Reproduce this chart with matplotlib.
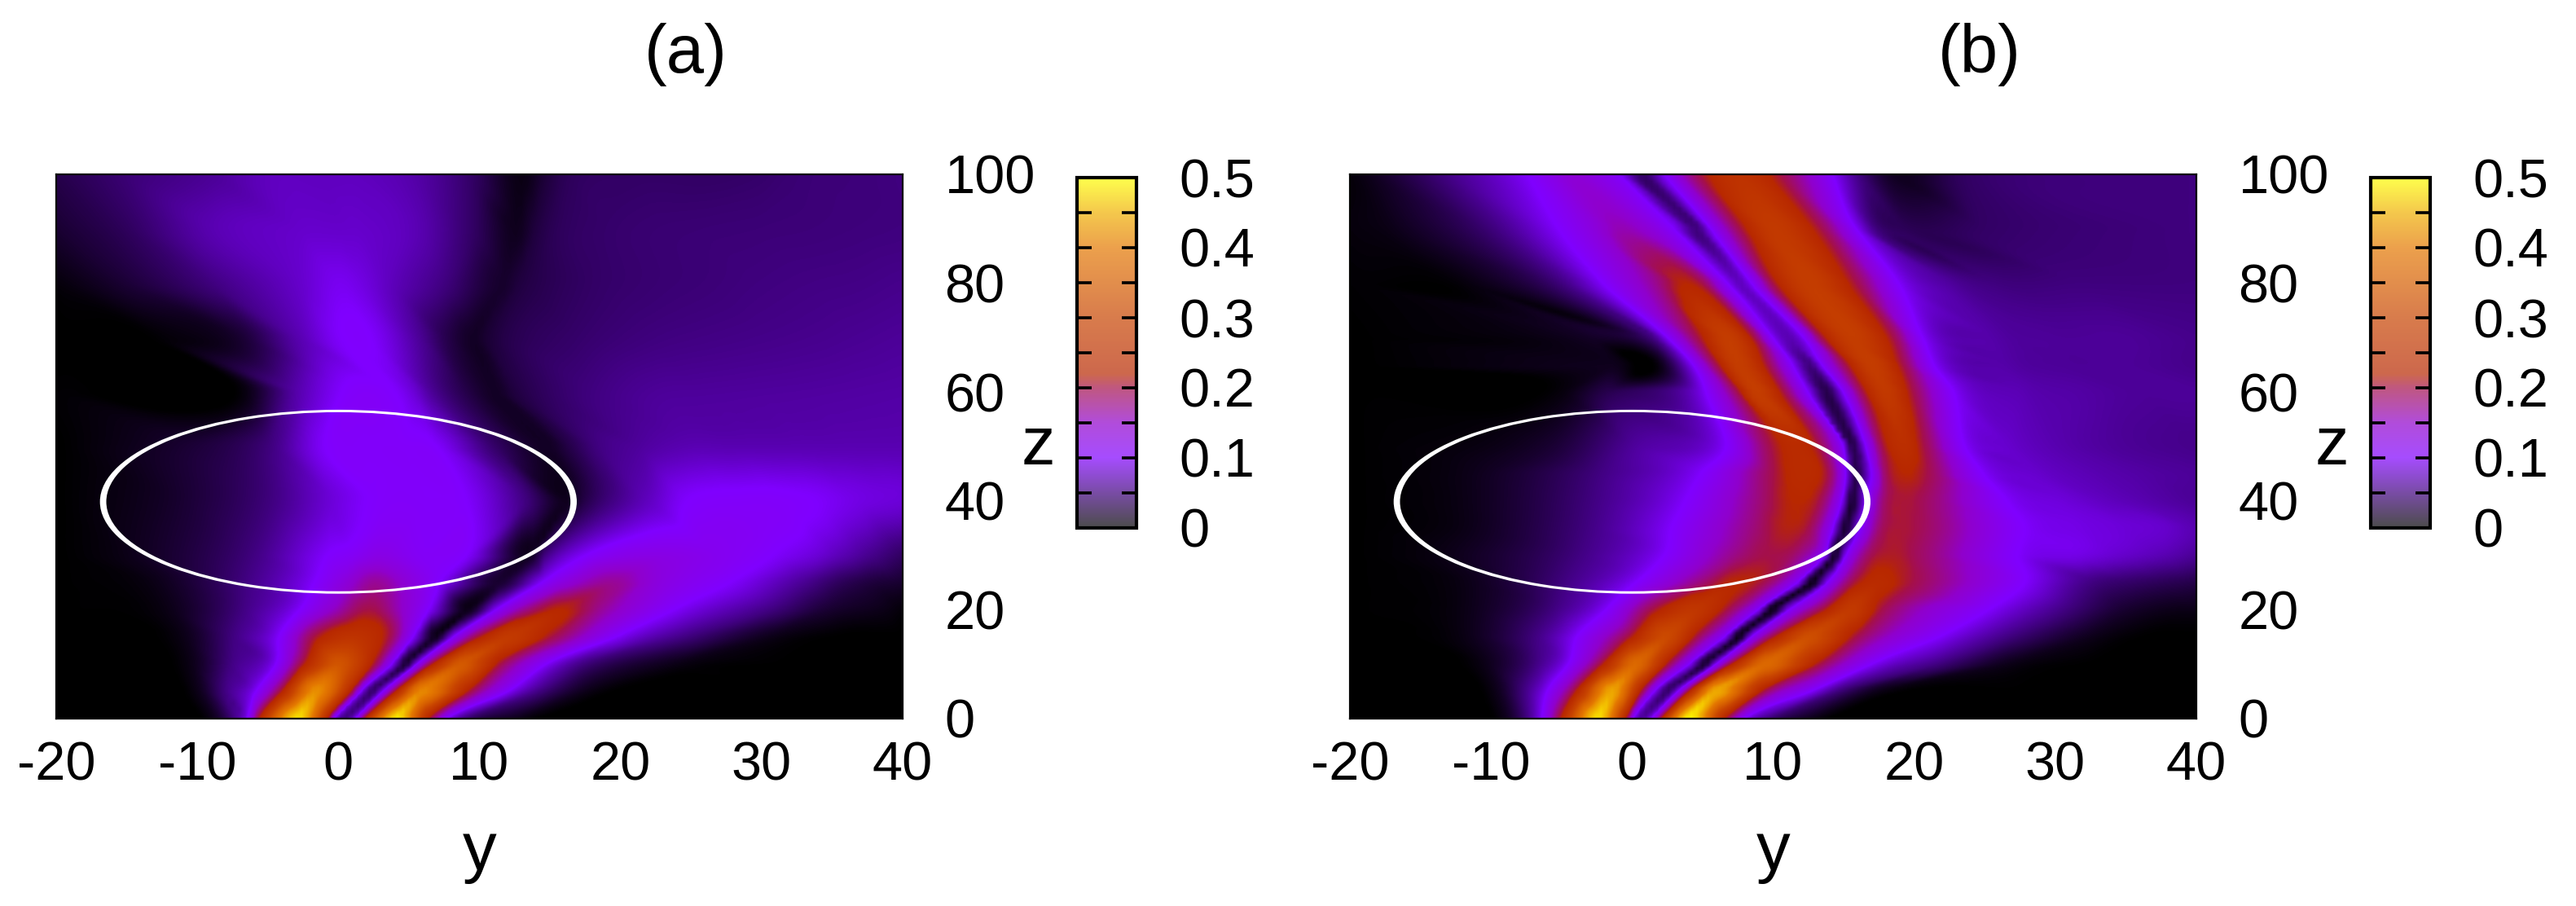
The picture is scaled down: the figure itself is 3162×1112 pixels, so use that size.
#!/usr/bin/env python3
"""Two intensity maps over y and z, with the circular region outlined."""
import matplotlib
matplotlib.use("Agg")
import matplotlib.pyplot as plt
import matplotlib.tri as mtri
import numpy as np
from matplotlib.colors import LinearSegmentedColormap
from matplotlib.patches import Annulus

plt.rcParams["font.family"] = ["Liberation Sans", "DejaVu Sans"]

WIDTH, HEIGHT = 3162, 1112
FONT = 48
LABEL_FONT = 60

Y_TICKS = [-20, -10, 0, 10, 20, 30, 40]
Z_TICKS = [0, 20, 40, 60, 80, 100]
BAR_TICKS = [0, 0.05, 0.1, 0.15, 0.2, 0.25, 0.3, 0.35, 0.4, 0.45, 0.5]
BAR_LABELS = ["0", "", "0.1", "", "0.2", "", "0.3", "", "0.4", "", "0.5"]

PALETTE_AT = [0, 0.1, 0.15, 0.2, 0.22, 0.3, 0.4, 0.45, 0.5]
PALETTE = ["#000000", "#8000ff", "#9000cc", "#a5104a", "#b82800",
           "#c84400", "#e47800", "#f0b000", "#ffff00"]

# samples along each z row, the columns follow the same ridge from row to row
A_Z = [0, 5, 10, 15, 20, 25, 30, 40, 50, 60, 70, 80, 90, 100]
A_Y = [
    [-20, -9.1, -7.6, -6.5, -5.8, -3, -0.7, -0.3, 0.5, 1.25, 1.8, 3.9, 6.6, 7.8, 9.1, 13, 25, 40],
    [-20, -10.1, -8.2, -5.9, -4.2, -1.6, 1, 1.6, 2.4, 3.2, 4, 5.8, 9.5, 12.2, 14.5, 17.8, 28, 40],
    [-20, -10.5, -7.8, -4.5, -2.7, 0.1, 2.6, 3.8, 4.8, 5.6, 6.6, 8.75, 11.6, 14.9, 17.6, 24, 32, 40],
    [-20, -11, -7.6, -4.3, -1.8, 1.25, 3.6, 5.3, 6.9, 8.2, 9.9, 12.2, 15.3, 19.9, 25, 31, 36, 40],
    [-20, -12, -7, -2.8, -0.5, 2.2, 4.5, 6.4, 9.3, 11.25, 13.2, 15.8, 18.75, 24, 31, 35, 38.8, 40],
    [-20, -13, -6.8, -1.8, 0.1, 2.6, 5.3, 7.2, 11.6, 14.5, 15.9, 19.5, 23, 28, 33, 36, 38, 40],
    [-20, -15, -6.2, -0.9, 1, 3, 5.5, 9.1, 13.75, 14.7, 17.6, 23, 27, 31, 34, 36, 38, 40],
    [-20, -11.2, -4.9, -0.6, 3.2, 6, 9.1, 13.3, 16.3, 17.6, 19.3, 22, 24.8, 28, 31.1, 34, 37, 40],
    [-20, -11.2, -4.9, -1, 2.3, 4.5, 7, 11.2, 15, 16.5, 18.4, 21.5, 24.8, 28, 31, 34, 37, 40],
    [-20, -7, -2.8, 1, 4, 5.3, 6.6, 9, 11.2, 12.5, 14.2, 18, 22.7, 26, 30, 34, 37, 40],
    [-20, -13, -7, -2.8, 0.2, 2.3, 5.7, 7.7, 9.5, 10.7, 12, 17, 22.7, 26, 30, 34, 37, 40],
    [-20, -15.5, -9, -2.8, 0, 1.5, 3.6, 7.5, 11.7, 12.8, 14, 18, 22.7, 26, 30, 34, 37, 40],
    [-20, -15.5, -9, -2.8, 0, 1.5, 5.7, 9.5, 12.7, 14, 15.5, 19, 22.7, 26, 30, 34, 37, 40],
    [-20, -15.5, -9, -5, -1, 1.5, 5.7, 9.5, 13.1, 14.6, 16.3, 21, 27, 30, 32, 34, 37, 40],
]
A_V = [
    [0, 0.01, 0.05, 0.1, 0.2, 0.48, 0.2, 0.1, 0.05, 0.1, 0.2, 0.48, 0.2, 0.1, 0.05, 0.01, 0, 0],
    [0, 0.01, 0.05, 0.1, 0.2, 0.42, 0.2, 0.1, 0.04, 0.1, 0.2, 0.41, 0.2, 0.1, 0.05, 0.01, 0, 0],
    [0, 0.01, 0.05, 0.1, 0.2, 0.33, 0.2, 0.1, 0.02, 0.1, 0.2, 0.34, 0.2, 0.1, 0.05, 0.01, 0, 0],
    [0, 0.01, 0.05, 0.1, 0.2, 0.25, 0.2, 0.1, 0.01, 0.1, 0.2, 0.27, 0.2, 0.1, 0.05, 0.01, 0, 0],
    [0, 0.01, 0.05, 0.1, 0.15, 0.2, 0.15, 0.1, 0.01, 0.1, 0.17, 0.22, 0.17, 0.1, 0.05, 0.02, 0.01, 0.005],
    [0, 0.01, 0.05, 0.1, 0.13, 0.17, 0.13, 0.1, 0.02, 0.1, 0.13, 0.17, 0.13, 0.1, 0.06, 0.035, 0.025, 0.02],
    [0, 0.01, 0.05, 0.1, 0.11, 0.125, 0.11, 0.1, 0.015, 0.05, 0.1, 0.125, 0.115, 0.1, 0.085, 0.07, 0.055, 0.04],
    [0, 0.02, 0.05, 0.085, 0.105, 0.105, 0.1, 0.05, 0.012, 0.03, 0.05, 0.075, 0.1, 0.105, 0.105, 0.1, 0.09, 0.085],
    [0, 0.02, 0.05, 0.1, 0.105, 0.105, 0.1, 0.04, 0.015, 0.03, 0.05, 0.062, 0.07, 0.07, 0.07, 0.07, 0.07, 0.07],
    [0.002, 0.004, 0.07, 0.105, 0.1, 0.085, 0.06, 0.03, 0.015, 0.025, 0.035, 0.05, 0.06, 0.061, 0.062, 0.063, 0.064, 0.065],
    [0, 0.002, 0.02, 0.07, 0.1, 0.1, 0.06, 0.03, 0.015, 0.022, 0.03, 0.042, 0.05, 0.052, 0.054, 0.056, 0.058, 0.06],
    [0.005, 0.02, 0.05, 0.08, 0.095, 0.09, 0.075, 0.05, 0.018, 0.025, 0.03, 0.04, 0.045, 0.047, 0.05, 0.052, 0.053, 0.055],
    [0.02, 0.035, 0.07, 0.08, 0.08, 0.08, 0.07, 0.04, 0.012, 0.025, 0.035, 0.042, 0.045, 0.046, 0.047, 0.048, 0.049, 0.05],
    [0.03, 0.045, 0.06, 0.075, 0.075, 0.075, 0.065, 0.04, 0.008, 0.022, 0.035, 0.04, 0.04, 0.042, 0.045, 0.047, 0.048, 0.05],
]

B_Z = [0, 5, 10, 15, 20, 25, 30, 35, 40, 45, 50, 60, 65, 70, 80, 90, 100]
B_Y = [
    [-20, -9.2, -7.6, -6.5, -5.3, -2.5, -0.4, 0.05, 0.6, 1.4, 2, 3.7, 6.8, 8.1, 9.8, 13, 25, 40],
    [-20, -9.8, -7.8, -6.1, -4.2, -1.4, 0.7, 1.6, 2.5, 3.3, 4, 5.8, 9.5, 12.9, 14.8, 17.7, 28, 40],
    [-20, -10.5, -7, -4.6, -2.3, 0.3, 2.6, 4.1, 5.2, 6, 7, 9.5, 13.5, 17.2, 22, 27, 33, 40],
    [-20, -11.7, -7, -4, -0.35, 2.5, 4.6, 6.6, 7.6, 8.5, 10, 12.6, 16, 22, 27, 33, 37, 40],
    [-20, -11.7, -5.7, -1.9, 1.4, 4.5, 6.8, 9, 9.9, 11.2, 13.5, 15.6, 17.8, 25.5, 31, 35, 39, 40],
    [-20, -11.7, -5, 0.2, 4.8, 7.2, 9.3, 11.8, 12.8, 13.9, 15.7, 17.5, 20, 28, 33, 36, 38, 40],
    [-20, -13, -4, 2.2, 7.5, 9.5, 11.8, 13.7, 14.4, 15.2, 16.8, 18.6, 20.5, 27.5, 32, 35, 38, 40],
    [-20, -11.7, -3.4, 2.7, 8.5, 11, 12.5, 14.3, 15.1, 16.2, 17.7, 19.2, 21, 28, 32, 35, 38, 40],
    [-20, -11.7, -3, 3.7, 8.9, 11.4, 13.3, 14.9, 15.6, 16.6, 18, 19.5, 21, 26.7, 31, 34, 36, 40],
    [-20, -11.7, -2.5, 4.8, 10, 11.8, 13.9, 15.2, 15.8, 17, 18, 19.5, 21, 25, 29, 33, 36, 40],
    [-20, -5.9, -0.15, 6.6, 9.8, 11.4, 13.3, 15, 15.6, 16.6, 17.8, 19.3, 20.8, 23.7, 27, 30, 35, 40],
    [-20, -5.2, -2, 5.2, 7.5, 8.7, 10.8, 12.5, 13.9, 15, 16.4, 18, 20, 22.9, 28, 31.7, 36, 40],
    [-20, -1.5, 1.7, 4.3, 6, 7.5, 9.65, 11.4, 12.7, 13.5, 15.2, 17, 19.3, 21.5, 27, 31, 35, 40],
    [-20, -3, 1.4, 2.5, 4.65, 6.8, 8.7, 10, 11.2, 12.2, 13.5, 15.6, 18.6, 20.7, 26, 30, 35, 40],
    [-20, -12, -5, -2.1, 1.5, 3.7, 5, 6.8, 7.7, 8.5, 10, 12.5, 16, 19, 23, 26, 32, 40],
    [-20, -17, -9.8, -5.3, -3, -0.9, 1.2, 3, 4.65, 5.6, 7.7, 10, 13.5, 16, 17.4, 19.5, 25, 40],
    [-20, -19, -13.5, -7.5, -6, -4.2, -2.5, -0.9, 0.8, 2.3, 4.8, 7.6, 10.6, 14.3, 16.2, 18.4, 24, 40],
]
B_V = [
    [0, 0.01, 0.05, 0.1, 0.2, 0.48, 0.2, 0.1, 0.06, 0.1, 0.2, 0.48, 0.2, 0.1, 0.05, 0.01, 0, 0],
    [0, 0.01, 0.05, 0.1, 0.2, 0.44, 0.2, 0.1, 0.04, 0.1, 0.2, 0.44, 0.2, 0.1, 0.05, 0.01, 0, 0],
    [0, 0.01, 0.05, 0.1, 0.2, 0.37, 0.2, 0.1, 0.02, 0.1, 0.2, 0.37, 0.2, 0.1, 0.05, 0.01, 0, 0],
    [0, 0.01, 0.05, 0.1, 0.2, 0.31, 0.2, 0.1, 0.01, 0.1, 0.2, 0.32, 0.2, 0.1, 0.05, 0.01, 0, 0],
    [0, 0.01, 0.05, 0.1, 0.2, 0.26, 0.2, 0.1, 0.01, 0.1, 0.2, 0.27, 0.2, 0.1, 0.05, 0.02, 0.01, 0.01],
    [0, 0.01, 0.05, 0.1, 0.18, 0.22, 0.2, 0.1, 0.01, 0.1, 0.2, 0.23, 0.2, 0.1, 0.05, 0.04, 0.035, 0.03],
    [0, 0.01, 0.05, 0.1, 0.18, 0.2, 0.18, 0.1, 0.015, 0.1, 0.19, 0.21, 0.19, 0.1, 0.09, 0.08, 0.07, 0.06],
    [0, 0.01, 0.05, 0.1, 0.18, 0.215, 0.2, 0.1, 0.02, 0.1, 0.19, 0.205, 0.19, 0.1, 0.09, 0.085, 0.08, 0.07],
    [0, 0.01, 0.05, 0.1, 0.18, 0.22, 0.2, 0.1, 0.02, 0.1, 0.19, 0.205, 0.19, 0.1, 0.085, 0.075, 0.07, 0.06],
    [0, 0.01, 0.05, 0.1, 0.2, 0.23, 0.2, 0.1, 0.03, 0.1, 0.19, 0.22, 0.2, 0.1, 0.08, 0.07, 0.065, 0.06],
    [0, 0.02, 0.06, 0.1, 0.2, 0.23, 0.2, 0.1, 0.03, 0.1, 0.2, 0.24, 0.2, 0.1, 0.08, 0.07, 0.06, 0.055],
    [0, 0.005, 0.03, 0.1, 0.2, 0.28, 0.2, 0.1, 0.03, 0.1, 0.2, 0.27, 0.2, 0.1, 0.07, 0.065, 0.06, 0.06],
    [0, 0.012, 0.004, 0.1, 0.2, 0.28, 0.2, 0.1, 0.05, 0.1, 0.2, 0.28, 0.2, 0.1, 0.065, 0.06, 0.06, 0.055],
    [0, 0.015, 0.05, 0.1, 0.2, 0.28, 0.2, 0.1, 0.07, 0.1, 0.2, 0.28, 0.2, 0.1, 0.065, 0.06, 0.06, 0.055],
    [0.002, 0.005, 0.05, 0.1, 0.17, 0.22, 0.2, 0.1, 0.075, 0.1, 0.2, 0.28, 0.2, 0.1, 0.06, 0.05, 0.05, 0.05],
    [0.005, 0.01, 0.05, 0.1, 0.13, 0.16, 0.14, 0.1, 0.05, 0.1, 0.2, 0.27, 0.2, 0.1, 0.05, 0.035, 0.04, 0.05],
    [0.005, 0.01, 0.05, 0.1, 0.12, 0.14, 0.125, 0.1, 0.04, 0.1, 0.2, 0.25, 0.2, 0.1, 0.05, 0.015, 0.04, 0.05],
]


def axes_at(figure, left, top, right, bottom):
    return figure.add_axes([left / WIDTH, 1 - bottom / HEIGHT,
                            (right - left) / WIDTH, (bottom - top) / HEIGHT])


def sheared_cells(z_rows, y_rows, v_rows):
    """Resolve the row samples on the plot's cell grid, using matplotlib's tri tools."""
    y_rows = np.array(y_rows, dtype=float)
    v_rows = np.array(v_rows, dtype=float)
    z_rows = np.repeat(np.array(z_rows, dtype=float)[:, None], y_rows.shape[1], axis=1)
    n_rows, n_cols = y_rows.shape
    triangles = []
    for row in range(n_rows - 1):
        for col in range(n_cols - 1):
            a = row * n_cols + col
            triangles.append([a, a + 1, a + n_cols])
            triangles.append([a + 1, a + n_cols + 1, a + n_cols])
    mesh = mtri.Triangulation(y_rows.ravel(), z_rows.ravel(), triangles)
    smooth = mtri.CubicTriInterpolator(mesh, v_rows.ravel(), kind="geom")
    y_cells, z_cells = np.meshgrid(np.linspace(-20, 40, 150), np.linspace(0, 100, 200))
    return np.ma.filled(smooth(y_cells, z_cells), 0.0)


def draw_panel(figure, offset, title, z_rows, y_rows, v_rows, cmap):
    axis = axes_at(figure, 69 + offset, 214, 1108 + offset, 882)
    cells = np.clip(sheared_cells(z_rows, y_rows, v_rows), 0, 0.5)
    image = axis.imshow(cells, origin="lower", extent=[-20, 40, 0, 100], aspect="auto",
                        cmap=cmap, vmin=0, vmax=0.5, interpolation="bilinear")
    axis.add_patch(Annulus((0, 39.85), 16.9, 0.45, facecolor="white", edgecolor="none"))
    axis.set_xlim(-20, 40)
    axis.set_ylim(0, 100)
    axis.set_xticks(Y_TICKS, labels=[str(t) for t in Y_TICKS])
    axis.set_yticks(Z_TICKS, labels=[str(t) for t in Z_TICKS])
    axis.tick_params(axis="x", length=0, labelsize=FONT, pad=20)
    axis.tick_params(axis="y", length=0, labelsize=FONT, pad=37,
                     left=False, labelleft=False, right=True, labelright=True)
    for spine in axis.spines.values():
        spine.set_linewidth(1.6)
    axis.set_xlabel("y", fontsize=LABEL_FONT, va="center")
    axis.xaxis.set_label_coords(0.5, -0.245)
    axis.yaxis.set_label_position("right")
    axis.set_ylabel("z", fontsize=LABEL_FONT, rotation=0, va="center", ha="center")
    axis.yaxis.set_label_coords(1.16, 0.5)
    axis.text(0.744, 1.22, title, transform=axis.transAxes, fontsize=LABEL_FONT,
              ha="center", va="center")

    cax = axes_at(figure, 1322 + offset, 218, 1395 + offset, 648)
    bar = figure.colorbar(image, cax=cax)
    bar.solids.set_alpha(0.7)
    bar.set_ticks(BAR_TICKS, labels=BAR_LABELS)
    bar.ax.tick_params(direction="in", length=13, width=2.6, left=True, right=True,
                       labelsize=FONT, pad=38)
    bar.outline.set_linewidth(3)


def main():
    cmap = LinearSegmentedColormap.from_list(
        "intensity", [(at / 0.5, color) for at, color in zip(PALETTE_AT, PALETTE)], N=512)
    figure = plt.figure(figsize=(WIDTH / 100, HEIGHT / 100), dpi=100)
    draw_panel(figure, 0, "(a)", A_Z, A_Y, A_V, cmap)
    draw_panel(figure, 1588, "(b)", B_Z, B_Y, B_V, cmap)
    figure.savefig("out.png", dpi=100)
    plt.close(figure)


if __name__ == "__main__":
    main()
